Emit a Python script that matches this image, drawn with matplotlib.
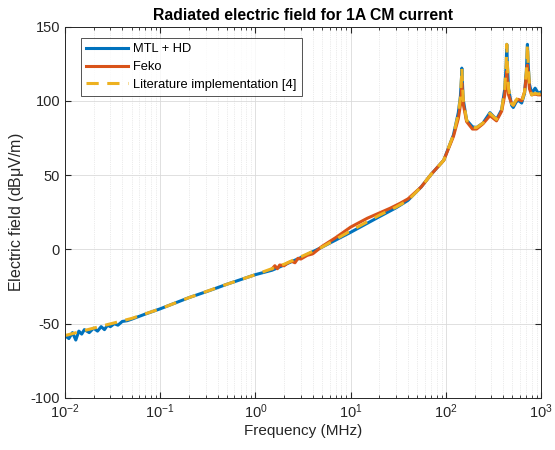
import numpy as np
import matplotlib
matplotlib.use('Agg')
import matplotlib.pyplot as plt
from matplotlib.ticker import LogLocator, NullFormatter, MultipleLocator

plt.rcParams['font.family'] = ['Liberation Sans', 'DejaVu Sans']
plt.rcParams['mathtext.fontset'] = 'custom'
plt.rcParams['mathtext.rm'] = 'Liberation Sans'
plt.rcParams['mathtext.it'] = 'Liberation Sans:italic'
plt.rcParams['mathtext.default'] = 'regular'
plt.rcParams['axes.unicode_minus'] = False

# MTL + HD (blue)
f_mtl = [0.010, 0.011, 0.012, 0.013, 0.014, 0.015, 0.016, 0.018, 0.020, 0.022,
         0.024, 0.026, 0.028, 0.030, 0.033, 0.036, 0.040, 0.045, 0.05, 0.07,
         0.1, 0.2, 0.33, 0.5, 1.0, 1.5, 2, 3, 5, 10, 20, 30, 40, 55, 70, 95,
         120, 135, 142, 146, 147, 148, 152, 165, 190, 210, 245, 290, 340, 385,
         415, 430, 436, 442, 455, 490, 510, 545, 572, 625, 670, 700, 718, 735,
         755, 795, 865, 935, 1000]
e_mtl = [-58, -60, -56, -61, -55, -57, -54, -56, -53, -55,
         -52, -54, -51, -52, -50, -51, -48.5, -48, -47, -43.5,
         -40, -32.5, -27.7, -23.5, -17, -14, -10.5, -5.5, 1.5, 11.5, 22, 28, 33, 42, 50.5, 60,
         77, 92, 103, 116, 122, 117, 101, 87, 82.5, 82, 85, 92, 87.5, 94,
         108, 125, 138, 125, 108, 97, 95.5, 99, 100.5, 98.5, 105, 120, 138, 122,
         111, 105, 108.5, 105, 106]

# Feko (orange)
f_feko = [1.5, 1.6, 1.7, 1.8, 2.0, 2.2, 2.4, 2.6, 2.8, 3.0, 3.5, 4, 5, 7, 10, 15,
          20, 26, 33, 40, 55, 70, 95, 120, 135, 142, 146, 147, 148, 152, 165,
          190, 210, 245, 290, 340, 385, 415, 430, 436, 442, 455, 490, 510, 545,
          572, 625, 670, 700, 718, 735, 755, 795, 865, 935, 1000]
e_feko = [-13, -11, -13, -10.5, -11, -9, -8, -9, -6, -6.5, -4, -3, 2, 8, 15, 21,
          24.5, 27.7, 31, 34, 42, 50.5, 60, 76, 88, 97, 108, 112, 108, 98, 86,
          81, 81, 84.5, 90, 86.5, 93, 104, 114, 120, 113, 104, 98, 97, 100,
          101, 100, 106, 117, 124, 116, 108, 104, 104.5, 104, 104]

# Literature implementation [4] (yellow dashed)
f_lit = [0.01, 0.02, 0.05, 0.1, 0.2, 0.5, 1, 2, 3, 5, 10, 20, 30, 40, 55, 70, 95,
         120, 135, 142, 146, 147, 148, 152, 165, 190, 210, 245, 290, 340, 385,
         415, 430, 436, 442, 455, 490, 510, 545, 572, 625, 670, 700, 718, 735,
         755, 795, 865, 935, 1000]
e_lit = [-58, -53, -46.5, -40, -32.5, -23.5, -17, -10, -5, 1.5, 12.5, 23, 28.5, 33, 42, 50.5, 60,
         77, 91, 102, 116, 122, 117, 101, 87, 82, 82, 85, 91.5, 87.5, 94,
         108, 125, 138, 125, 108, 98, 97, 100.5, 102, 99, 106, 120, 138, 122,
         110, 104, 105, 104.5, 105]

fig = plt.figure(figsize=(5.55, 4.5), dpi=100)
ax = fig.add_axes([0.117, 0.1156, 0.858, 0.8255])

ax.semilogx(f_mtl, e_mtl, color='#0072BD', lw=2.2, label='MTL + HD')
ax.semilogx(f_feko, e_feko, color='#D95319', lw=2.2, label='Feko')
ax.semilogx(f_lit, e_lit, color='#EDB120', lw=2.2, linestyle=(0, (4, 2.8)),
            label='Literature implementation [4]')

ax.set_xlim(1e-2, 1e3)
ax.set_ylim(-100, 150)
ax.yaxis.set_major_locator(MultipleLocator(50))
ax.xaxis.set_major_locator(LogLocator(base=10, numticks=10))
ax.xaxis.set_minor_locator(LogLocator(base=10, subs=np.arange(2, 10), numticks=20))
ax.xaxis.set_minor_formatter(NullFormatter())

ax.grid(True, which='major', color='#DADADA', lw=0.6)
ax.grid(True, which='minor', axis='x', color='#D8D8D8', lw=0.5, linestyle=':')
ax.set_axisbelow(True)

ax.tick_params(which='both', direction='in', top=True, right=True,
               colors='#262626', labelsize=10.5)
ax.tick_params(which='major', length=4)
ax.tick_params(which='minor', length=2)
for s in ax.spines.values():
    s.set_color('#262626')
    s.set_linewidth(0.7)

ax.set_xlabel('Frequency (MHz)', fontsize=11, color='#262626', labelpad=2)
ax.set_ylabel(r'Electric field (dB$\mu$V/m)', fontsize=11.5, color='#262626', labelpad=3)
ax.set_title('Radiated electric field for 1A CM current', fontsize=11.3,
             fontweight='bold', pad=5)

leg = ax.legend(loc='upper left', bbox_to_anchor=(0.034, 0.969), fontsize=9.3,
                frameon=True, fancybox=False, edgecolor='#262626',
                handlelength=3.25, handletextpad=0.4, borderpad=0.4,
                labelspacing=0.45, borderaxespad=0)
leg.get_frame().set_linewidth(0.7)

fig.savefig('out.png', dpi=100)
